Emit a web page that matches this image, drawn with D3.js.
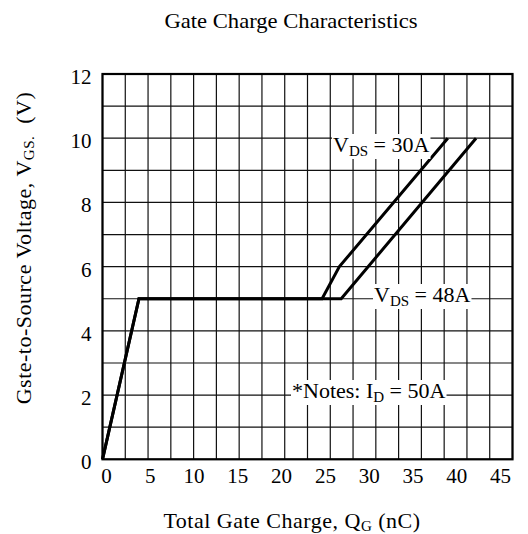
<!DOCTYPE html>
<html>
<head>
<meta charset="utf-8">
<script src="https://cdn.jsdelivr.net/npm/d3@7"></script>
<style>
  body { margin: 0; background: #fff; }
  text { font-family: "Liberation Serif", "Times New Roman", serif; fill: #000; }
</style>
</head>
<body>
<div id="chart"></div>
<script>
// curve data (Qg in nC, Vgs in V)
const qg30 = [0, 4, 24.1, 26, 37.9];
const vgs30 = [0, 5, 5, 6, 10];
const qg48 = [0, 4, 26.2, 41];
const vgs48 = [0, 5, 5, 10];

const xTicks = [0, 5, 10, 15, 20, 25, 30, 35, 40, 45];
const yTicks = [0, 2, 4, 6, 8, 10, 12];
const xGrid = [0, 2.5, 5, 7.5, 10, 12.5, 15, 17.5, 20, 22.5, 25, 27.5, 30, 32.5, 35, 37.5, 40, 42.5, 45];
const yGrid = [0, 1, 2, 3, 4, 5, 6, 7, 8, 9, 10, 11, 12];

const width = 528, height = 534;
const plotLeft = 102.5, plotRight = 512.5, plotTop = 74, plotBottom = 459.3;

const svg = d3.select("#chart").append("svg")
    .attr("width", width)
    .attr("height", height);

const x = d3.scaleLinear().domain([0, 45]).range([plotLeft, plotRight]);
const y = d3.scaleLinear().domain([0, 12]).range([plotBottom, plotTop]);
// tick labels in the picture sit a bit tighter than the grid
const xLab = d3.scaleLinear().domain([0, 45]).range([106, 500]);

// grid
svg.append("g")
    .selectAll("line")
    .data(xGrid)
    .enter()
    .append("line")
    .attr("x1", d => x(d)).attr("x2", d => x(d))
    .attr("y1", plotTop).attr("y2", plotBottom)
    .attr("stroke", "#111")
    .attr("stroke-width", 1.2);

svg.append("g")
    .selectAll("line")
    .data(yGrid)
    .enter()
    .append("line")
    .attr("x1", plotLeft).attr("x2", plotRight)
    .attr("y1", d => y(d)).attr("y2", d => y(d))
    .attr("stroke", "#111")
    .attr("stroke-width", 1.2);

svg.append("rect")
    .attr("x", plotLeft).attr("y", plotTop)
    .attr("width", plotRight - plotLeft).attr("height", plotBottom - plotTop)
    .attr("fill", "none")
    .attr("stroke", "#000")
    .attr("stroke-width", 2.2);

// axes (labels only)
const xAxis = svg.append("g")
    .attr("transform", `translate(0, ${plotBottom})`)
    .call(d3.axisBottom(xLab).tickValues(xTicks).tickSize(0).tickPadding(9));
xAxis.select(".domain").remove();
xAxis.selectAll("text")
    .style("font-family", "Liberation Serif")
    .style("font-size", "21px")
    .attr("fill", "#000");

const yAxis = svg.append("g")
    .attr("transform", `translate(${plotLeft - 11}, 0)`)
    .call(d3.axisLeft(y).tickValues(yTicks).tickSize(0).tickPadding(0));
yAxis.select(".domain").remove();
yAxis.selectAll("text")
    .style("font-family", "Liberation Serif")
    .style("font-size", "21px")
    .attr("dy", "0.45em")
    .attr("fill", "#000");

// curves
const line = d3.line().x(d => x(d[0])).y(d => y(d[1]));

svg.append("path")
    .datum(qg30.map((q, i) => [q, vgs30[i]]))
    .attr("d", line)
    .attr("fill", "none")
    .attr("stroke", "#000")
    .attr("stroke-width", 3)
    .attr("stroke-linejoin", "miter");

svg.append("path")
    .datum(qg48.map((q, i) => [q, vgs48[i]]))
    .attr("d", line)
    .attr("fill", "none")
    .attr("stroke", "#000")
    .attr("stroke-width", 3)
    .attr("stroke-linejoin", "miter");

// labels with white boxes behind them
function boxedLabel(tx, ty, parts) {
    const g = svg.append("g");
    const bg = g.append("rect").attr("fill", "#fff");
    const t = g.append("text")
        .attr("x", tx).attr("y", ty)
        .style("font-size", "22px");
    parts.forEach(p => {
        const s = t.append("tspan").text(p.t);
        if (p.sub) s.style("font-size", "15px").attr("dy", 4);
        else if (p.back) s.attr("dy", -4);
    });
    const b = t.node().getBBox();
    bg.attr("x", b.x - 1).attr("y", b.y + 2)
        .attr("width", b.width + 2).attr("height", b.height - 2);
}

boxedLabel(333, 152, [{t: "V"}, {t: "DS", sub: true}, {t: " = 30A", back: true}]);
boxedLabel(374, 302, [{t: "V"}, {t: "DS", sub: true}, {t: " = 48A", back: true}]);
boxedLabel(292, 398, [{t: "*Notes: I"}, {t: "D", sub: true}, {t: " = 50A", back: true}]);

// titles
svg.append("text")
    .attr("x", 291).attr("y", 28)
    .style("text-anchor", "middle")
    .style("font-size", "21px")
    .attr("textLength", 253)
    .attr("lengthAdjust", "spacingAndGlyphs")
    .text("Gate Charge Characteristics");

const xl = svg.append("text")
    .attr("x", 292).attr("y", 528)
    .style("text-anchor", "middle")
    .style("font-size", "22px")
    .style("letter-spacing", "0.5px");
xl.append("tspan").text("Total Gate Charge, Q");
xl.append("tspan").text("G").style("font-size", "15px").attr("dy", 3);
xl.append("tspan").text(" (nC)").attr("dy", -3);

const yl = svg.append("text")
    .attr("transform", "translate(31, 248) rotate(-90)")
    .style("text-anchor", "middle")
    .style("font-size", "22px")
    .style("letter-spacing", "0.5px");
yl.append("tspan").text("Gste-to-Source Voltage, V");
yl.append("tspan").text("GS.").style("font-size", "15px").attr("dy", 3);
yl.append("tspan").text("\u00a0\u00a0(V)").attr("dy", -3);
</script>
</body>
</html>
